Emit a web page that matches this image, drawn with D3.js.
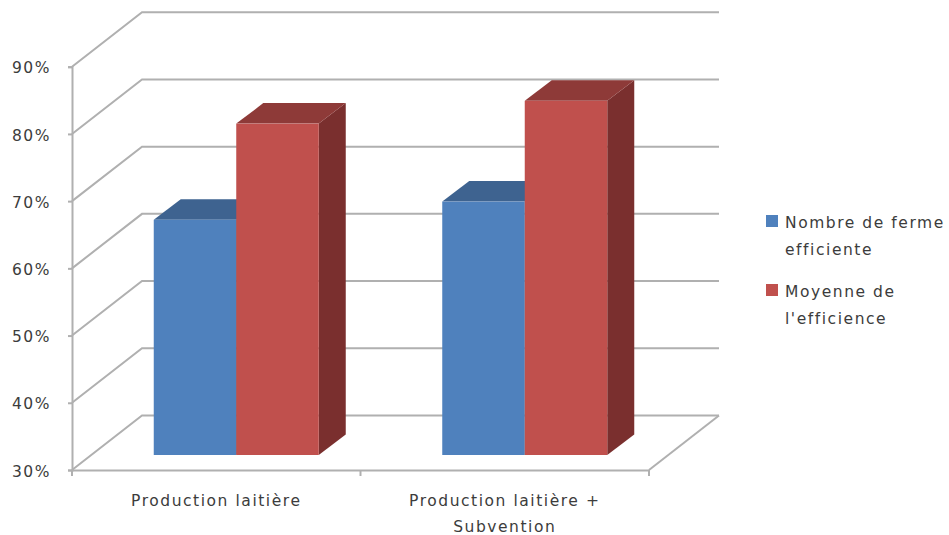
<!DOCTYPE html>
<html>
<head>
<meta charset="utf-8">
<script src="https://d3js.org/d3.v7.min.js"></script>
<style>
html, body { margin: 0; padding: 0; background: #fff; }
svg { display: block; }
text { font-family: "DejaVu Sans", sans-serif; font-size: 15.5px; letter-spacing: 1.55px; fill: #3c3c3c; }
</style>
</head>
<body>
<svg id="chart"></svg>
<script>
var categories = ["Production laitière", "Production laitière + Subvention"];
var categoryLines = [["Production laitière"], ["Production laitière +", "Subvention"]];
var seriesNames = ["Nombre de ferme efficiente", "Moyenne de l'efficience"];
var legendLines = [["Nombre de ferme", "efficiente"], ["Moyenne de", "l'efficience"]];
var nombreFerme = [65, 67.7];
var moyenneEfficience = [79.3, 82.7];
var yTicks = [30, 40, 50, 60, 70, 80, 90];

var screen = {width:949, height:535};
var margins = {left:72, top:66.7};
var graph = {width:577, height:403.3};
var wall = {dx:70, dy:-54.5};       // how far the back wall sits behind the axes
var barOffset = {dx:20, dy:-15};    // front of the bars, measured from the axes
var barDepth = {dx:27, dy:-20.5};
var groupWidth = 165;

var seriesColors = [
    {front:"#4f81bd", top:"#3e6390", side:"#38587f"},
    {front:"#c0504d", top:"#8e3a38", side:"#7a2f2e"}
];
var gridColor = "#b0b0b0";

var svg = d3.select("#chart")
    .attr("width",screen.width)
    .attr("height",screen.height);

var target = svg.append("g")
    .attr("transform","translate("+margins.left+","+margins.top+")");

var xScale = d3.scaleBand()
    .domain(categories)
    .range([0,graph.width]);

var seriesScale = d3.scaleBand()
    .domain(seriesNames)
    .range([0,groupWidth]);

var yScale = d3.scaleLinear()
    .domain([30,90])
    .range([graph.height,0]);

var polygon = function(points)
{
    return points.map(function(p){return p.join(",");}).join(" ");
}

// walls and floor
var drawWalls = function()
{
    var walls = target.append("g")
        .attr("fill","none")
        .attr("stroke",gridColor)
        .attr("stroke-width",2);

    walls.selectAll(".grid")
        .data(yTicks)
        .enter()
        .append("polyline")
        .classed("grid",true)
        .attr("points",function(tick)
        {
            var y = yScale(tick);
            return polygon([[0,y],[wall.dx,y+wall.dy],[graph.width+wall.dx,y+wall.dy]]);
        });

    walls.append("line")
        .attr("x1",graph.width+wall.dx)
        .attr("y1",graph.height+wall.dy)
        .attr("x2",graph.width)
        .attr("y2",graph.height);
}

var drawAxes = function()
{
    var yAxis = d3.axisLeft(yScale)
        .tickValues(yTicks)
        .tickSize(4)
        .tickPadding(17)
        .tickFormat(function(d){return d+"%";});

    var yGroup = target.append("g").call(yAxis);
    yGroup.select(".domain").attr("stroke",gridColor).attr("stroke-width",2);
    yGroup.selectAll(".tick line").attr("stroke",gridColor).attr("stroke-width",2);
    yGroup.selectAll(".tick text").attr("dy","0.4em");

    var xAxis = d3.axisBottom(xScale).tickSize(0).tickPadding(36);
    var xGroup = target.append("g")
        .attr("transform","translate(0,"+graph.height+")")
        .call(xAxis);
    xGroup.select(".domain").attr("stroke",gridColor).attr("stroke-width",2);

    // the band edges carry the tick marks
    xGroup.selectAll(".edge")
        .data(d3.range(categories.length+1))
        .enter()
        .append("line")
        .classed("edge",true)
        .attr("x1",function(i){return i*xScale.bandwidth();})
        .attr("x2",function(i){return i*xScale.bandwidth();})
        .attr("y1",0)
        .attr("y2",6)
        .attr("stroke",gridColor)
        .attr("stroke-width",2);

    // category names wrap on two lines
    xGroup.selectAll(".tick text")
        .text(null)
        .selectAll("tspan")
        .data(function(d){return categoryLines[categories.indexOf(d)];})
        .enter()
        .append("tspan")
        .attr("x",0)
        .attr("dy",function(d,i){return i==0 ? 0 : 26;})
        .text(function(d){return d;});

    target.selectAll("text").attr("font-family",null).attr("font-size",null);
}

var drawBars = function()
{
    var rows = [];
    categories.forEach(function(category,c)
    {
        rows.push({category:category, name:seriesNames[0], value:nombreFerme[c], color:seriesColors[0]});
        rows.push({category:category, name:seriesNames[1], value:moyenneEfficience[c], color:seriesColors[1]});
    });

    var bars = target.append("g")
        .attr("transform","translate("+barOffset.dx+","+barOffset.dy+")")
        .selectAll("g")
        .data(rows)
        .enter()
        .append("g");

    var x0 = function(d)
    {
        return xScale(d.category)+(xScale.bandwidth()-groupWidth)/2+seriesScale(d.name);
    }
    var x1 = function(d){return x0(d)+seriesScale.bandwidth();}

    bars.append("polygon")
        .attr("fill",function(d){return d.color.side;})
        .attr("points",function(d)
        {
            var t = yScale(d.value), b = yScale(30);
            return polygon([[x1(d),t],[x1(d)+barDepth.dx,t+barDepth.dy],[x1(d)+barDepth.dx,b+barDepth.dy],[x1(d),b]]);
        });

    bars.append("polygon")
        .attr("fill",function(d){return d.color.top;})
        .attr("points",function(d)
        {
            var t = yScale(d.value);
            return polygon([[x0(d),t],[x0(d)+barDepth.dx,t+barDepth.dy],[x1(d)+barDepth.dx,t+barDepth.dy],[x1(d),t]]);
        });

    bars.append("rect")
        .attr("fill",function(d){return d.color.front;})
        .attr("x",x0)
        .attr("y",function(d){return yScale(d.value);})
        .attr("width",seriesScale.bandwidth())
        .attr("height",function(d){return yScale(30)-yScale(d.value);});
}

var drawLegend = function()
{
    var legendTops = [215,284];
    var items = svg.append("g")
        .selectAll("g")
        .data(legendLines)
        .enter()
        .append("g")
        .attr("transform",function(d,i){return "translate(766,"+legendTops[i]+")";});

    items.append("rect")
        .attr("width",12)
        .attr("height",12)
        .attr("fill",function(d,i){return seriesColors[i].front;});

    items.selectAll("text")
        .data(function(d){return d;})
        .enter()
        .append("text")
        .attr("x",19)
        .attr("y",function(d,i){return 12.5+i*27;})
        .text(function(d){return d;});
}

drawWalls();
drawAxes();
drawBars();
drawLegend();
</script>
</body>
</html>
